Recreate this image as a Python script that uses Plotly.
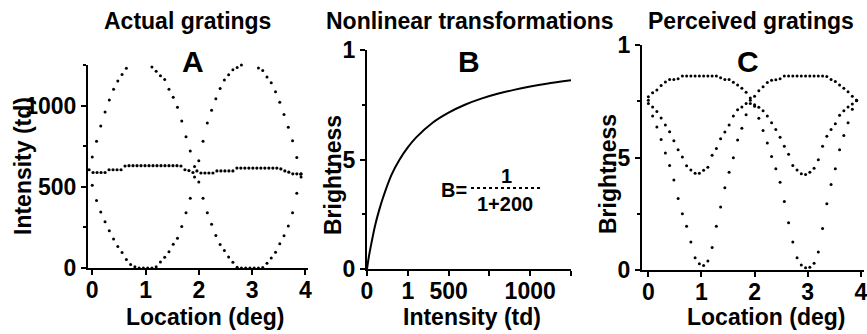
import plotly.graph_objects as go

# ---------------- data ----------------
# Panel A: actual gratings, intensity (td) vs location (deg)
loc = [0.00, 0.08, 0.16, 0.24, 0.32, 0.40, 0.48, 0.56, 0.64, 0.72, 0.80, 0.88, 0.96, 1.04, 1.12,
       1.20, 1.28, 1.36, 1.44, 1.52, 1.60, 1.68, 1.76, 1.84, 1.92, 2.00, 2.08, 2.16, 2.24, 2.32,
       2.40, 2.48, 2.56, 2.64, 2.72, 2.80, 2.88, 2.96, 3.04, 3.12, 3.20, 3.28, 3.36, 3.44, 3.52,
       3.60, 3.68, 3.76, 3.84, 3.92]
grating1 = [683, 780, 875, 960, 1035, 1100, 1152, 1192, 1230, 1255, 1260, 1260, 1256, 1252, 1238,
            1212, 1184, 1160, 1100, 1051, 990, 905, 808, 720, 625, 530, 430, 340, 270, 200,
            145, 108, 68, 35, 5, 0, 0, 0, 0, 0, 3, 30, 62, 97, 150, 198, 258, 340, 460, 560]
grating2 = [510, 415, 345, 285, 230, 178, 132, 95, 52, 22, 8, 0, 0, 0, 0,
            8, 37, 66, 100, 146, 183, 255, 340, 430, 560, 660, 780, 893, 972, 1042,
            1105, 1158, 1190, 1220, 1235, 1250, 1253, 1253, 1253, 1232, 1216, 1176, 1140, 1085, 1020,
            945, 866, 783, 680, 580]
loc_mean = [-0.06, 0.015, 0.09, 0.165, 0.24, 0.315, 0.39, 0.465, 0.54, 0.615,
            0.69, 0.765, 0.84, 0.915, 0.99, 1.065, 1.14, 1.215, 1.29, 1.365, 1.44, 1.515, 1.59,
            1.665, 1.74, 1.815, 1.89, 1.965, 2.04, 2.115, 2.19, 2.265,
            2.34, 2.415, 2.49, 2.565, 2.64, 2.715,
            2.79, 2.865, 2.94, 3.015, 3.09, 3.165, 3.24, 3.315, 3.39, 3.465,
            3.54, 3.615, 3.69, 3.765, 3.84, 3.915]
mean_int = [605, 588, 588, 588, 588, 605, 605, 605, 605, 628,
            630, 630, 630, 630, 630, 630, 630, 630, 630, 630, 630, 630, 630,
            628, 605, 600, 588, 598, 585, 585, 585, 585,
            598, 598, 598, 598, 598, 615,
            615, 615, 615, 615, 615, 615, 615, 615, 615, 615,
            610, 598, 590, 580, 580, 578]

# Panel B: nonlinear transformation, brightness vs intensity
intensity = [0, 10, 25, 50, 75, 100, 150, 200, 250, 300, 400, 500, 600, 700, 800, 900, 1000, 1100, 1250]
brightness = [0, 0.05, 0.11, 0.2, 0.27, 0.33, 0.43, 0.5, 0.555, 0.6, 0.667, 0.714, 0.75, 0.778,
              0.8, 0.818, 0.833, 0.846, 0.862]

# Panel C: perceived gratings, brightness vs location
perceived1 = [0.740, 0.684, 0.636, 0.580, 0.520, 0.465, 0.400, 0.318, 0.250, 0.195, 0.125, 0.055, 0.028,
              0.020, 0.040, 0.100, 0.195, 0.280, 0.366, 0.435, 0.499, 0.578, 0.630, 0.690, 0.740,
              0.772, 0.797, 0.815, 0.833, 0.843, 0.846, 0.850, 0.862, 0.862, 0.862, 0.862, 0.862,
              0.862, 0.862, 0.862, 0.862, 0.862, 0.860, 0.847, 0.838, 0.822, 0.808, 0.792, 0.772, 0.755]
perceived2 = [0.770, 0.788, 0.800, 0.820, 0.836, 0.847, 0.847, 0.850, 0.862, 0.862, 0.862, 0.862, 0.862,
              0.862, 0.862, 0.862, 0.862, 0.855, 0.847, 0.847, 0.835, 0.822, 0.808, 0.790, 0.765,
              0.728, 0.675, 0.620, 0.565, 0.505, 0.450, 0.390, 0.305, 0.210, 0.125, 0.055, 0.022,
              0.010, 0.012, 0.030, 0.080, 0.185, 0.295, 0.380, 0.450, 0.535, 0.598, 0.655, 0.715, 0.755]
perceived_mean = [0.754, 0.725, 0.704, 0.676, 0.645, 0.615, 0.574, 0.534, 0.502, 0.463, 0.445, 0.430, 0.430,
                  0.443, 0.457, 0.510, 0.540, 0.583, 0.613, 0.644, 0.684, 0.712, 0.725, 0.740, 0.754,
                  0.735, 0.723, 0.708, 0.684, 0.655, 0.625, 0.590, 0.550, 0.515, 0.465, 0.445, 0.428,
                  0.425, 0.435, 0.452, 0.490, 0.550, 0.595, 0.625, 0.650, 0.688, 0.708, 0.724, 0.738, 0.752]

loc_ticks = [0, 1, 2, 3, 4]
int_ticks = [0, 500, 1000]
int_minor = [250, 750, 1250]
b_ticks = [0, 250, 500, 750, 1000, 1250]
b_ticktext = ["0", "1", "500", "", "1000", ""]
bright_ticks = [0, 0.5, 1]
bright_ticktext = ["0", ".5", "1"]
bright_minor = [0.25, 0.75]

# ---------------- figure ----------------
W, H = 867, 334
FAM = "Liberation Sans, Arial, Helvetica, sans-serif"


def px(x):
    return x / W


def py(y):
    return 1 - y / H


TF = dict(family=FAM, size=23, color="black", weight="bold")

fig = go.Figure()
dot = dict(color="black", size=3)
fig.add_trace(go.Scatter(x=loc, y=grating1, mode="markers", marker=dot, xaxis="x", yaxis="y", cliponaxis=False))
fig.add_trace(go.Scatter(x=loc, y=grating2, mode="markers", marker=dot, xaxis="x", yaxis="y", cliponaxis=False))
fig.add_trace(go.Scatter(x=loc_mean, y=mean_int, mode="markers", marker=dict(color="black", size=3.2),
                         xaxis="x", yaxis="y", cliponaxis=False))

fig.add_trace(go.Scatter(x=intensity, y=brightness, mode="lines", line=dict(color="black", width=2,
                         shape="spline"), xaxis="x2", yaxis="y2", cliponaxis=False))

fig.add_trace(go.Scatter(x=loc, y=perceived1, mode="markers", marker=dot, xaxis="x3", yaxis="y3", cliponaxis=False))
fig.add_trace(go.Scatter(x=loc, y=perceived2, mode="markers", marker=dot, xaxis="x3", yaxis="y3", cliponaxis=False))
fig.add_trace(go.Scatter(x=loc, y=perceived_mean, mode="markers", marker=dot, xaxis="x3", yaxis="y3", cliponaxis=False))

common = dict(showline=True, linecolor="black", linewidth=2, ticks="outside", ticklen=5, tickwidth=2,
              tickcolor="black", tickfont=TF, showgrid=False, zeroline=False, fixedrange=True,
              automargin=False, ticklabeloverflow="allow")
xcommon = dict(ticklabelstandoff=-5, **common)

fig.update_layout(
    width=W, height=H, margin=dict(l=0, r=0, t=0, b=0, autoexpand=False),
    paper_bgcolor="white", plot_bgcolor="white", showlegend=False,
    xaxis=dict(domain=[px(88), px(308)], range=[-0.08, 4.05], anchor="y", tickvals=loc_ticks, **xcommon),
    yaxis=dict(domain=[py(268), py(65)], range=[0, 1250], anchor="x", tickvals=int_ticks,
               minor=dict(tickvals=int_minor, ticks="outside", ticklen=3, tickwidth=2, tickcolor="black"),
               **common),
    xaxis2=dict(domain=[px(367), px(571)], range=[0, 1250], anchor="y2", tickvals=b_ticks,
                ticktext=b_ticktext, **xcommon),
    yaxis2=dict(domain=[py(269), py(50)], range=[0, 1], anchor="x2", tickvals=bright_ticks,
                ticktext=bright_ticktext,
                minor=dict(tickvals=bright_minor, ticks="outside", ticklen=3, tickwidth=2, tickcolor="black"),
                **common),
    xaxis3=dict(domain=[px(642), px(864)], range=[-0.12, 4.06], anchor="y3", tickvals=loc_ticks, **xcommon),
    yaxis3=dict(domain=[py(270), py(45)], range=[0, 1], anchor="x3", tickvals=bright_ticks,
                ticktext=bright_ticktext,
                minor=dict(tickvals=bright_minor, ticks="outside", ticklen=3, tickwidth=2, tickcolor="black"),
                **common),
)


def ann(text, x, y, size=23, angle=0):
    fig.add_annotation(text=text, x=px(x), y=py(y), xref="paper", yref="paper", showarrow=False,
                       xanchor="center", yanchor="middle", textangle=angle,
                       font=dict(family=FAM, size=size, color="black", weight="bold"))


ann("Actual gratings", 187, 21)
ann("Nonlinear transformations", 470, 21)
ann("Perceived gratings", 751, 21)
ann("A", 193, 61, 30)
ann("B", 469, 61, 30)
ann("C", 748, 61, 30)
ann("Location (deg)", 205, 317)
ann("Intensity (td)", 472, 317)
ann("Location (deg)", 766, 317)
ann("Intensity (td)", 23, 166, 23, -90)
ann("Brightness", 333, 175, 23, -90)
ann("Brightness", 608, 174, 23, -90)
ann("B=", 454, 190, 20)
ann("1", 507, 176, 20)
ann("1+200", 505, 204, 20)
fig.add_shape(type="line", xref="paper", yref="paper", x0=px(471), x1=px(543), y0=py(188), y1=py(188),
              line=dict(color="black", width=2, dash="dot"))

fig.write_html("out.html", config={"displayModeBar": False},
               post_script="document.body.style.margin='0px';document.body.style.overflow='hidden';")
